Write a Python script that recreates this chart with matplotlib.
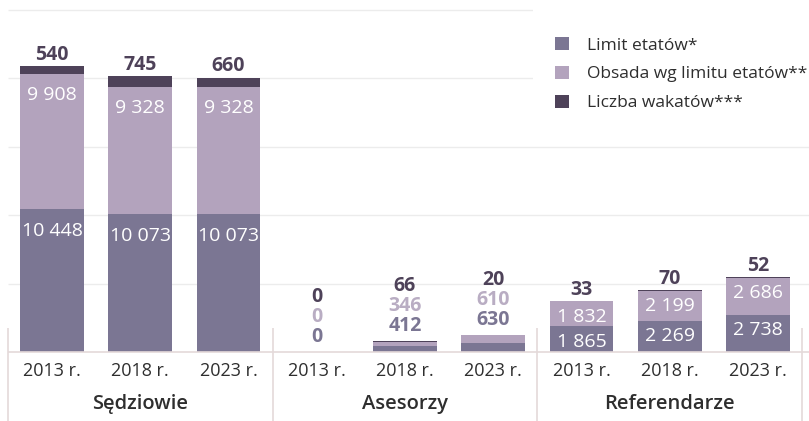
import matplotlib.pyplot as plt
from matplotlib.patches import Patch, Rectangle

# data
groups = ['Sędziowie', 'Asesorzy', 'Referendarze']
years = ['2013 r.', '2018 r.', '2023 r.']
limit = [10448, 10073, 10073, 0, 412, 630, 1865, 2269, 2738]
obsada = [9908, 9328, 9328, 0, 346, 610, 1832, 2199, 2686]
wakaty = [540, 745, 660, 0, 66, 20, 33, 70, 52]
series_names = ['Limit etatów*', 'Obsada wg limitu etatów**', 'Liczba wakatów***']

c_limit = '#7b7693'
c_obsada = '#b3a3bd'
c_wakaty = '#4e4259'
c_text = '#2e2e2e'
c_line = '#e4d9d9'
c_grid = '#ececec'

plt.rcParams['font.family'] = ['Open Sans', 'DejaVu Sans']

W, H = 809, 421
fig = plt.figure(figsize=(W / 100, H / 100), dpi=100)
ax = fig.add_axes([0, 0, 1, 1])

# pixel scale of the original: 5000 units per ~68.4 px, base line 69 px above bottom
per_px = 5000 / 68.4
step = 88.25
ax.set_ylim(-69 * per_px, 352 * per_px)
ax.set_xlim(-52 / step, (W - 52) / step)
ax.axis('off')


def fmt(v):
    return f'{v:,}'.replace(',', ' ')


x = list(range(len(limit)))
right = (W - 52) / step

for g in [5000, 10000, 15000, 20000, 25000]:
    ax.hlines(g, -0.5, right, color=c_grid, lw=1, zorder=0)
ax.hlines(0, -0.5, right, color=c_line, lw=1.2, zorder=3)
ax.vlines([-0.5, 2.5, 5.5, 8.5], -69 * per_px, 24 * per_px, color=c_line, lw=1.2, zorder=3)

# white box behind legend hides the upper grid lines
ax.add_patch(Rectangle((533 / W, 1 - 120 / H), 1, 1, transform=ax.transAxes,
                       facecolor='white', edgecolor='none', zorder=1))

bw = 0.725
ax.bar(x, limit, bw, color=c_limit, zorder=2)
ax.bar(x, obsada, bw, bottom=limit, color=c_obsada, zorder=2)
tops = [a + b for a, b in zip(limit, obsada)]
ax.bar(x, wakaty, bw, bottom=tops, color=c_wakaty, zorder=2)

inner_pad = [9, 0, 4.5]
for i in x:
    g = i // 3
    total = tops[i] + wakaty[i]
    if obsada[i] > 1000:
        ax.annotate(fmt(limit[i]), (i, limit[i]), xytext=(0, -inner_pad[g]),
                    textcoords='offset points', ha='center', va='top',
                    color='white', fontsize=14, zorder=4)
        ax.annotate(fmt(obsada[i]), (i, tops[i]), xytext=(0, -inner_pad[g]),
                    textcoords='offset points', ha='center', va='top',
                    color='white', fontsize=14, zorder=4)
        ax.annotate(fmt(wakaty[i]), (i, total), xytext=(0, 1),
                    textcoords='offset points', ha='center', va='bottom',
                    color=c_wakaty, fontsize=14, fontweight='bold', zorder=4)
    else:
        stack = [(limit[i], c_limit), (obsada[i], '#b9adc3'), (wakaty[i], c_wakaty)]
        for k, (v, c) in enumerate(stack):
            ax.annotate(fmt(v), (i, total), xytext=(0, 3.5 + 14.5 * k),
                        textcoords='offset points', ha='center', va='bottom',
                        color=c, fontsize=14, fontweight='bold', zorder=4)

for i in x:
    ax.annotate(years[i % 3], (i, 0), xytext=(0, -13.7), textcoords='offset points',
                ha='center', va='center', color=c_text, fontsize=13)
for g, name in enumerate(groups):
    ax.annotate(name, (g * 3 + 1, 0), xytext=(0, -37.5), textcoords='offset points',
                ha='center', va='center', color=c_text, fontsize=14.5, fontweight='semibold')

handles = [Patch(facecolor=c, edgecolor='none') for c in (c_limit, c_obsada, c_wakaty)]
ax.legend(handles, series_names, loc='upper left', bbox_to_anchor=(555 / W, 1 - 37 / H),
          frameon=False, fontsize=12.5, handlelength=0.8, handleheight=0.8,
          handletextpad=1.05, labelspacing=0.7, borderpad=0, borderaxespad=0,
          labelcolor=c_text)

fig.savefig('out.png', dpi=100, facecolor='white')
